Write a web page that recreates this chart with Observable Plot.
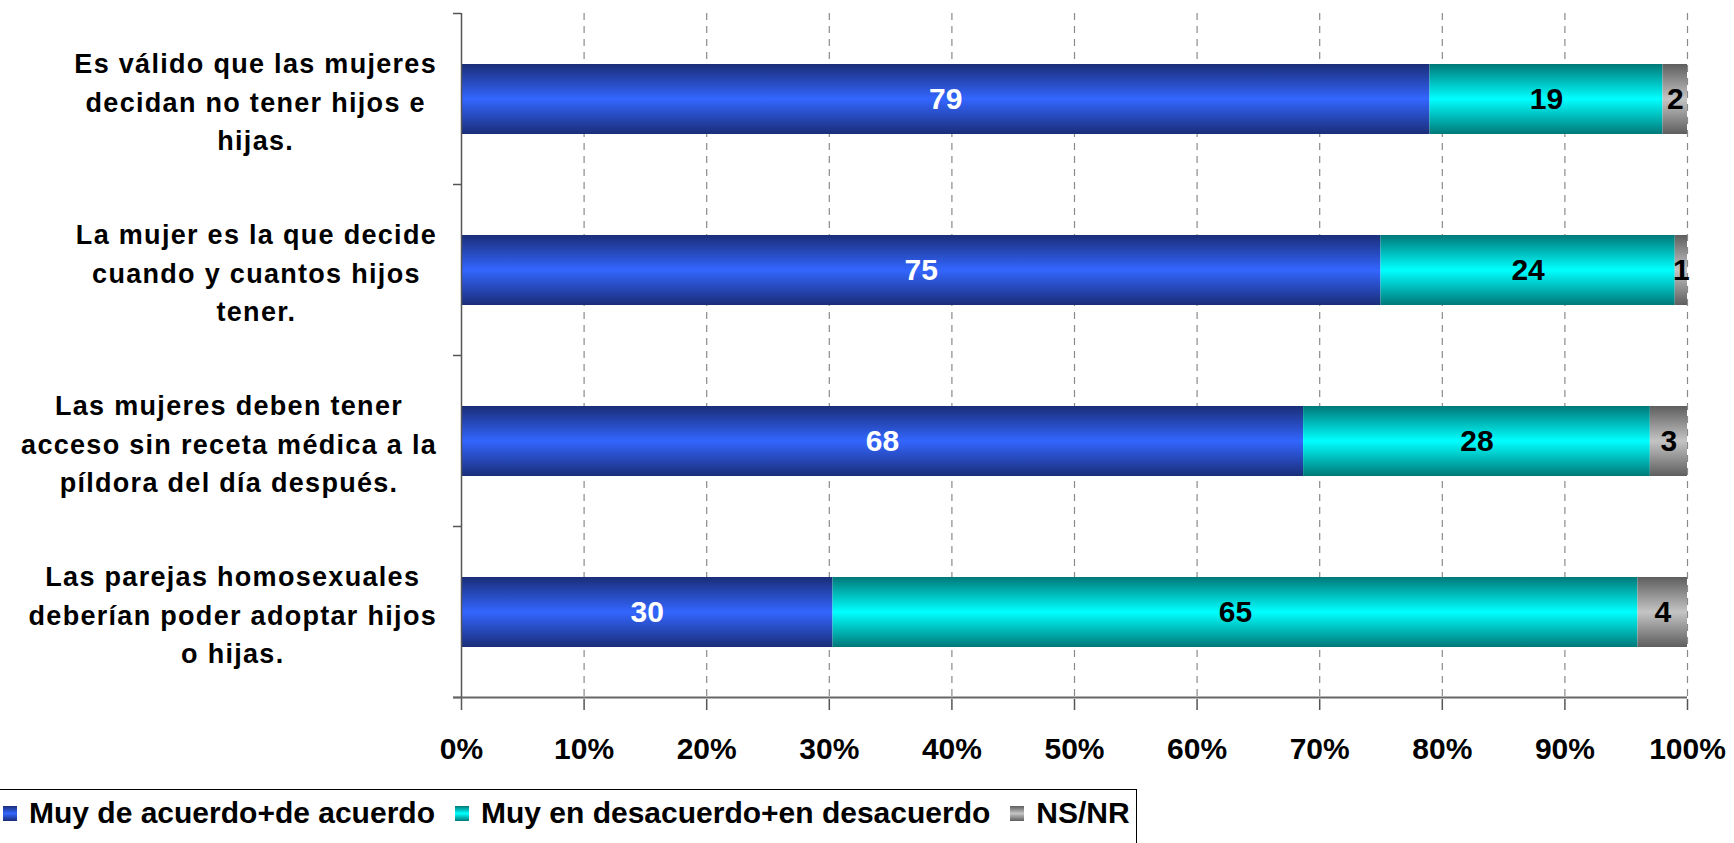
<!DOCTYPE html>
<html>
<head>
<meta charset="utf-8">
<script src="https://cdn.jsdelivr.net/npm/d3@7"></script>
<script src="https://cdn.jsdelivr.net/npm/@observablehq/plot@0.6"></script>
<style>
  html, body { margin: 0; padding: 0; background: #fff; overflow: hidden; }
  body { width: 1734px; height: 843px; font-family: "Liberation Sans", Arial, sans-serif; }
  #legend {
    position: absolute; left: -1px; top: 789px; width: 1138px; height: 70px;
    border: 1px solid #000; box-sizing: border-box;
    display: flex; align-items: flex-start; padding-top: 6px;
    font: bold 30px "Liberation Sans", Arial, sans-serif; color: #000; letter-spacing: 0px;
  }
  .item { display: flex; align-items: center; margin-right: 17px; white-space: nowrap; }
  .item svg { margin-right: 12px; margin-left: 3px; }
  g[aria-label="y-axis tick label"] text { letter-spacing: 1.3px; }
</style>
</head>
<body>
<div id="chart"></div>
<div id="legend"></div>
<script>
const categories = [
  "Es válido que las mujeres\ndecidan no tener hijos e\nhijas.",
  "La mujer es la que decide\ncuando y cuantos hijos\ntener.",
  "Las mujeres deben tener\nacceso sin receta médica a la\npíldora del día después.",
  "Las parejas homosexuales\ndeberían poder adoptar hijos\no hijas."
];
const seriesNames = ["Muy de acuerdo+de acuerdo", "Muy en desacuerdo+en desacuerdo", "NS/NR"];
const agree = [79, 75, 68, 30];
const disagree = [19, 24, 28, 65];
const nsnr = [2, 1, 3, 4];
const xTicks = [0, 0.1, 0.2, 0.3, 0.4, 0.5, 0.6, 0.7, 0.8, 0.9, 1];

const gradients = [
  {id: "gBlue", edge: "#1a2d78", mid: "#3366ff"},
  {id: "gCyan", edge: "#007878", mid: "#00ffff"},
  {id: "gGray", edge: "#5e5e5e", mid: "#c4c4c4"}
];

const seriesValues = [agree, disagree, nsnr];
const data = [];
categories.forEach((c, i) => {
  seriesNames.forEach((s, j) => data.push({category: c, series: s, value: seriesValues[j][i]}));
});

const fmtPct = d => Math.round(d * 100) + "%";

const chart = Plot.plot({
  width: 1734,
  height: 787,
  marginTop: 13,
  marginBottom: 88,
  marginLeft: 461,
  marginRight: 47,
  style: {fontFamily: "'Liberation Sans', Arial, sans-serif", background: "#fff"},
  x: {domain: [0, 1], label: null},
  y: {domain: categories, paddingInner: 0.59, paddingOuter: 0.295, label: null},
  color: {domain: seriesNames, range: gradients.map(g => `url(#${g.id})`)},
  marks: [
    Plot.gridX(xTicks.slice(1), {stroke: "#8a8a8a", strokeOpacity: 1, strokeDasharray: "7,6", strokeWidth: 1.2}),
    Plot.barX(data, Plot.stackX({x: "value", y: "category", fill: "series", offset: "normalize", order: seriesNames})),
    Plot.textX(data, Plot.stackX({x: "value", y: "category", z: "series", offset: "normalize", order: seriesNames,
      text: d => d.series === seriesNames[0] ? d.value : null,
      fill: "white", fontSize: 30, fontWeight: "bold"})),
    Plot.textX(data, Plot.stackX({x: "value", y: "category", z: "series", offset: "normalize", order: seriesNames,
      text: d => d.series === seriesNames[0] ? null : d.value,
      fill: "black", fontSize: 30, fontWeight: "bold"})),
    Plot.ruleX([0], {stroke: "#555", strokeWidth: 1.5}),
    Plot.axisX(xTicks, {tickFormat: fmtPct, tickSize: 11, tickPadding: 27, fontSize: 30, fontWeight: "bold",
      stroke: "#555", strokeWidth: 1.5, fill: "black", label: null}),
    Plot.axisY({tickSize: 0, tickPadding: 0, textAnchor: "middle", dx: -209, fontSize: 27, fontWeight: "bold",
      lineHeight: 1.42, fill: "black", label: null})
  ]
});

document.getElementById("chart").appendChild(chart);

// gradient definitions
const svg = d3.select(chart);
const defs = svg.insert("defs", ":first-child");
gradients.forEach(g => {
  const lg = defs.append("linearGradient").attr("id", g.id).attr("x1", 0).attr("y1", 0).attr("x2", 0).attr("y2", 1);
  lg.append("stop").attr("offset", "0%").attr("stop-color", g.edge);
  lg.append("stop").attr("offset", "50%").attr("stop-color", g.mid);
  lg.append("stop").attr("offset", "100%").attr("stop-color", g.edge);
});

const xs = chart.scale("x"), ys = chart.scale("y");
const x0 = xs.apply(0), x1 = xs.apply(1);

// category labels: each block right-aligned near the axis, lines centred within the block
const svgLeft = chart.getBoundingClientRect().left;
svg.selectAll('g[aria-label="y-axis tick label"] text').each(function () {
  const r = this.getBoundingClientRect();
  const shift = (x0 - 24) - (r.right - svgLeft);
  const t = d3.select(this);
  const prev = t.attr("transform") || "";
  t.attr("transform", `translate(${shift},0) ${prev}`);
});

// bottom axis line and category-boundary ticks on the y axis, from the chart's scales
const step = ys.step;
const g = svg.append("g").attr("stroke", "#555").attr("stroke-width", 1.5);
const bandTop = c => ys.apply(c) - (step - ys.bandwidth) / 2;
const bounds = categories.map(bandTop);
bounds.push(bandTop(categories[categories.length - 1]) + step);
bounds.forEach(y => g.append("line").attr("x1", x0 - 8).attr("x2", x0).attr("y1", y).attr("y2", y));
g.append("line").attr("x1", x0 - 8).attr("x2", x1).attr("y1", bounds[bounds.length - 1]).attr("y2", bounds[bounds.length - 1])
  .attr("stroke-width", 2.2).attr("stroke", "#666");

// legend
const legend = d3.select("#legend");
seriesNames.forEach((s, i) => {
  const item = legend.append("div").attr("class", "item");
  const sw = item.append("svg").attr("width", 14).attr("height", 15);
  sw.append("rect").attr("width", 14).attr("height", 15).attr("fill", `url(#${gradients[i].id})`);
  item.append("span").text(s);
});
</script>
</body>
</html>
